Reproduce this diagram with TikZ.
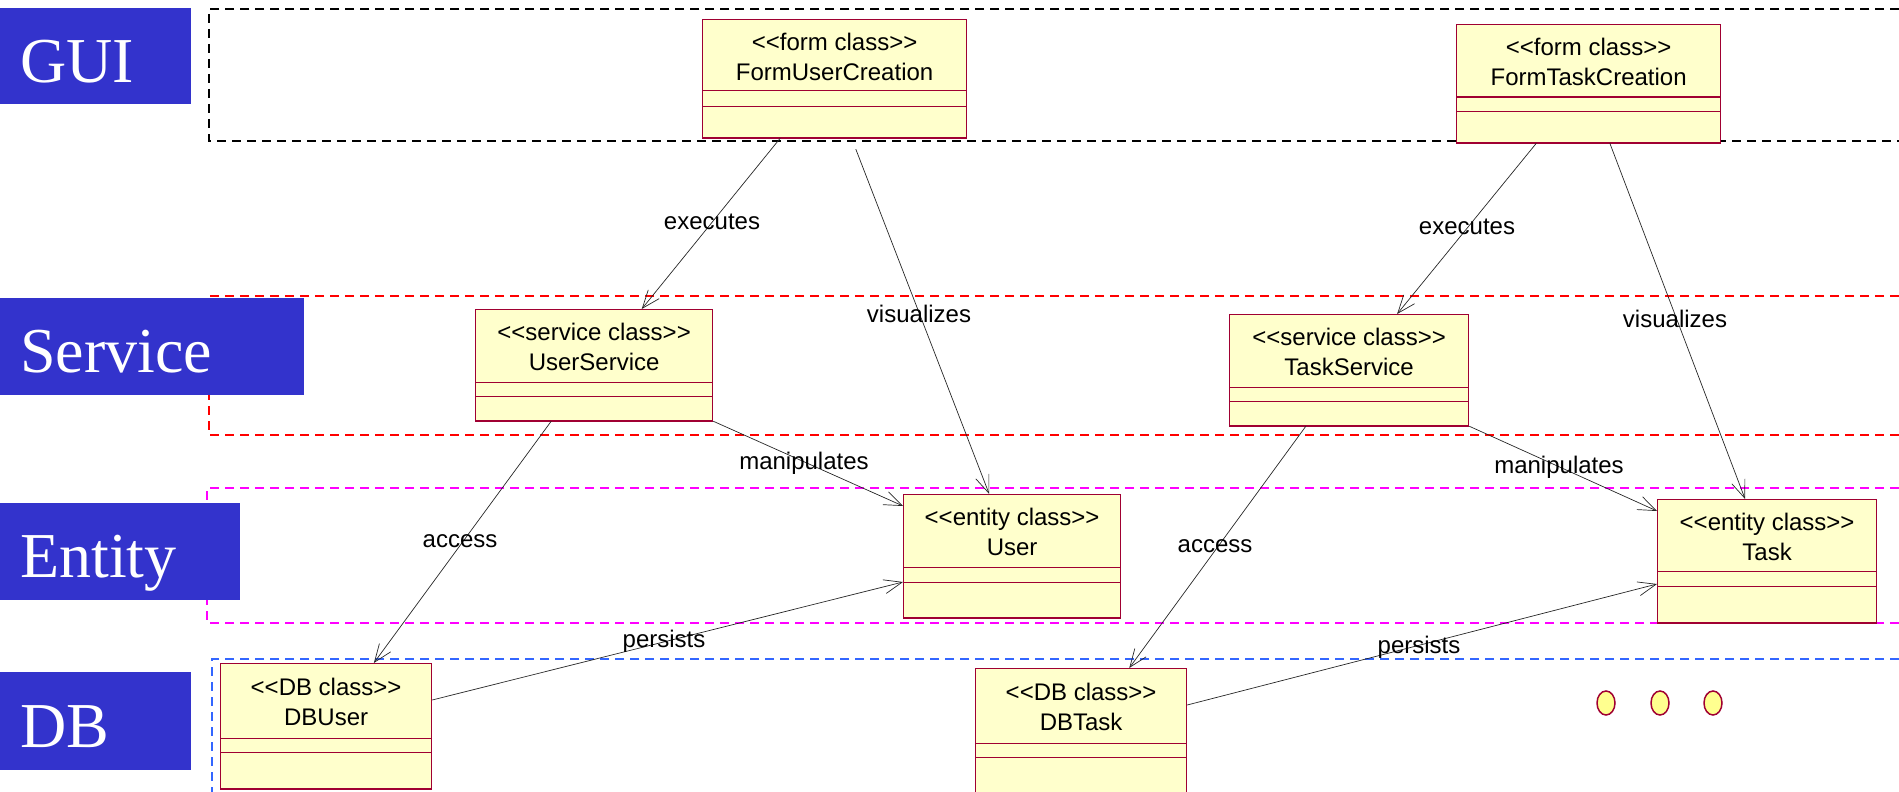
\documentclass[tikz,border=0pt]{standalone}
\usepackage{fontspec}
\setmainfont{Liberation Serif}
\setsansfont{Liberation Sans}[Ligatures=TeXOff]
\usepackage{tikz}
\usetikzlibrary{calc, arrows.meta}

\definecolor{layerblue}{RGB}{51,51,204}
\definecolor{classfill}{RGB}{255,255,204}
\definecolor{classedge}{RGB}{160,0,50}
\definecolor{dbblue}{RGB}{51,102,255}
\definecolor{entitypink}{RGB}{255,0,255}
\definecolor{servicered}{RGB}{255,0,0}

\begin{document}
\begin{tikzpicture}[x=1pt, y=-1pt,
    layer/.style={fill=layerblue, text=white, anchor=north west, inner xsep=20pt, inner ysep=0pt,
        align=left, text height=52pt, text depth=0pt, font=\fontsize{64}{64}\selectfont},
    layerline/.style={line width=2pt, dash pattern=on 9pt off 6pt},
    classbox/.style={draw=classedge, fill=classfill, line width=1.2pt, anchor=north west, inner sep=0pt},
    classsep/.style={draw=classedge, line width=1pt},
    classtext/.style={font=\sffamily\fontsize{24}{30}\selectfont, align=center},
    link/.style={draw=black!85, line width=0.7pt, -{Straight Barb[length=18pt, width=14pt]}},
    linklabel/.style={font=\sffamily\fontsize{24}{30}\selectfont, text height=17pt, text depth=5pt, inner sep=0pt},
    dotmark/.style={draw=classedge, fill=classfill!70!yellow, line width=1.5pt}]
    \useasboundingbox (0,0) rectangle (1899,792);

    \def\rim{1899}
    \draw[layerline, black] (\rim,9) -- (209,9) -- (209,141) -- (\rim,141);
    \draw[layerline, servicered] (\rim,296) -- (209,296) -- (209,435) -- (\rim,435);
    \draw[layerline, entitypink] (\rim,488) -- (207,488) -- (207,623) -- (\rim,623);
    \draw[layerline, dbblue] (\rim,659) -- (212,659) -- (212,800);

    \node[layer, text width=151pt, minimum height=96pt] (gui) at (0,8) {GUI};
    \node[layer, text width=264pt, minimum height=97pt] (service) at (0,298) {Service};
    \node[layer, text width=200pt, minimum height=97pt] (entity) at (0,503) {Entity};
    \node[layer, text width=151pt, minimum height=98pt] (db) at (0,672) {DB};

    \foreach \n/\x/\y/\w/\h/\sa/\sb/\ckind/\cname in {
        fuc/702/19/264/118/72/87/form/FormUserCreation,
        ftc/1456/24/264/118/73/87/form/FormTaskCreation,
        us/475/309/237/111/73/87/service/UserService,
        ts/1229/314/239/111/73/87/service/TaskService,
        usr/903/494/217/123/73/88/entity/User,
        tsk/1657/499/219/123/72/87/entity/Task,
        dbu/220/663/211/125/75/89/DB/DBUser,
        dbt/975/668/211/126/75/89/DB/DBTask} {
        \node[classbox, minimum width=\w, minimum height=\h] (\n) at (\x,\y) {};
        \draw[classsep] ([yshift=-\sa]\n.north west) -- ([yshift=-\sa]\n.north east);
        \draw[classsep] ([yshift=-\sb]\n.north west) -- ([yshift=-\sb]\n.north east);
        \draw[classedge, line width=2.5pt] (\n.south west) -- (\n.south east);
        \node[classtext] (\n-txt) at ([yshift={-0.5*\sa-1.5}]\n.north) {<<\ckind{} class>>\\\cname};
    }

    \foreach \x [count=\i] in {1606,1660,1713}
        \draw[dotmark] (\x,703) ellipse [x radius=9pt, y radius=12pt];

    \draw[link] ($(fuc.south west)!0.295!(fuc.south east)$) -- ($(us.north west)!0.70!(us.north east)$);
    \draw[link] ($(fuc.south west)!0.58!(fuc.south east)+(0,11)$) -- ($(usr.north west)!0.395!(usr.north east)$);
    \draw[link] ($(ftc.south west)!0.303!(ftc.south east)$) -- ($(ts.north west)!0.70!(ts.north east)$);
    \draw[link] ($(ftc.south west)!0.58!(ftc.south east)$) -- ($(tsk.north west)!0.40!(tsk.north east)$);
    \draw[link] (us.south east) -- ($(usr.north west)+(0,12)$);
    \draw[link] (ts.south east) -- ($(tsk.north west)+(0,12)$);
    \draw[link] ($(us.south west)!0.32!(us.south east)$) -- ($(dbu.north west)!0.725!(dbu.north east)$);
    \draw[link] ($(ts.south west)!0.32!(ts.south east)$) -- ($(dbt.north west)!0.727!(dbt.north east)$);
    \draw[link] ($(dbu.north east)+(0,37)$) -- ($(usr.north west)+(0,88)$);
    \draw[link] ($(dbt.north east)+(0,37)$) -- ($(tsk.north west)+(0,85)$);

    \node[linklabel] (exec-u) at (712,223) {executes};
    \node[linklabel] (vis-u) at (919,316) {visualizes};
    \node[linklabel] (exec-t) at (1467,228) {executes};
    \node[linklabel] (vis-t) at (1675,321) {visualizes};
    \node[linklabel] (man-u) at (804,463) {manipulates};
    \node[linklabel] (man-t) at (1559,467) {manipulates};
    \node[linklabel] (acc-u) at (460,541) {access};
    \node[linklabel] (acc-t) at (1215,546) {access};
    \node[linklabel] (per-u) at (664,641) {persists};
    \node[linklabel] (per-t) at (1419,647) {persists};
\end{tikzpicture}
\end{document}
